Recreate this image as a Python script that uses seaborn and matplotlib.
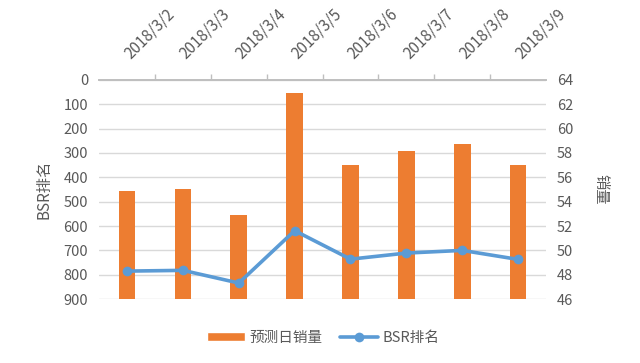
import numpy as np
import pandas as pd
import seaborn as sns
import matplotlib.pyplot as plt
from matplotlib.lines import Line2D
from matplotlib.patches import Patch

# Dados
dates = ["2018/3/2", "2018/3/3", "2018/3/4", "2018/3/5",
         "2018/3/6", "2018/3/7", "2018/3/8", "2018/3/9"]
sales = [54.9, 55.05, 52.9, 62.9, 57.0, 58.2, 58.75, 57.0]
bsr_rank = [785, 782, 834, 619, 736, 711, 700, 737]

df = pd.DataFrame({"date": dates, "sales": sales, "bsr": bsr_rank})

sns.set_theme(style="white")
plt.rcParams["font.family"] = ["Noto Sans CJK SC", "DejaVu Sans"]
text_color = "#595959"
orange = "#ED7D31"
blue = "#5B9BD5"

fig = plt.figure(figsize=(6.4, 3.63), dpi=100)
ax = fig.add_axes([0.155, 0.176, 0.698, 0.604])
ax2 = ax.twinx()

# Barras (eixo direito: 销量)
sns.barplot(data=df, x="date", y="sales", ax=ax, color=orange,
            width=0.3, saturation=1, edgecolor="none")
ax.set_ylim(46, 64)
ax.set_yticks(np.arange(46, 65, 2))
ax.grid(axis="y", color="#D9D9D9", linewidth=1)
ax.set_axisbelow(True)

# Linha (eixo esquerdo invertido: BSR排名)
sns.lineplot(data=df, x="date", y="bsr", ax=ax2, color=blue, linewidth=2.6,
             marker="o", markersize=7, markeredgewidth=0)
ax2.set_ylim(900, 0)
ax2.set_yticks(np.arange(0, 901, 100))

# troca de lados dos eixos y
ax.yaxis.tick_right()
ax.yaxis.set_label_position("right")
ax2.yaxis.tick_left()
ax2.yaxis.set_label_position("left")
ax.set_ylabel("销量", rotation=270, labelpad=26, color=text_color, fontsize=11)
ax2.set_ylabel("BSR排名", labelpad=8, color=text_color, fontsize=11)

# Eixo de categorias no topo
ax.set_xlim(-0.5, len(dates) - 0.5)
ax.xaxis.tick_top()
ax.set_xlabel("")
ax2.set_xlabel("")
ax.set_xticks(range(len(dates)))
ax.set_xticklabels(dates, rotation=45, ha="left", va="center",
                   rotation_mode="anchor")
ax.set_xticks(np.arange(0.5, len(dates) - 0.5, 1), minor=True)
ax.tick_params(axis="x", which="major", length=0, pad=17,
               labelsize=11, labelcolor=text_color)
ax.tick_params(axis="x", which="minor", top=True, bottom=False,
               length=4, color="#BFBFBF", direction="out")
ax.tick_params(axis="y", length=0, labelsize=10.5, labelcolor=text_color, pad=8)
ax2.tick_params(axis="y", length=0, labelsize=10.5, labelcolor=text_color, pad=8)

for a in (ax, ax2):
    for s in ("left", "right", "bottom"):
        a.spines[s].set_visible(False)
    a.spines["top"].set_color("#BFBFBF")
ax2.tick_params(axis="x", which="both", top=False, bottom=False,
                labeltop=False, labelbottom=False)

# Legenda
handles = [Patch(facecolor=orange, label="预测日销量"),
           Line2D([0], [0], color=blue, linewidth=2.6, marker="o",
                  markersize=7, markeredgewidth=0, label="BSR排名")]
fig.legend(handles=handles, loc="center", bbox_to_anchor=(0.505, 0.07),
           ncol=2, frameon=False, fontsize=10.5, labelcolor=text_color,
           handlelength=2.6, handleheight=0.5, columnspacing=1.2,
           handletextpad=0.3)

plt.savefig("out.png", dpi=100)
